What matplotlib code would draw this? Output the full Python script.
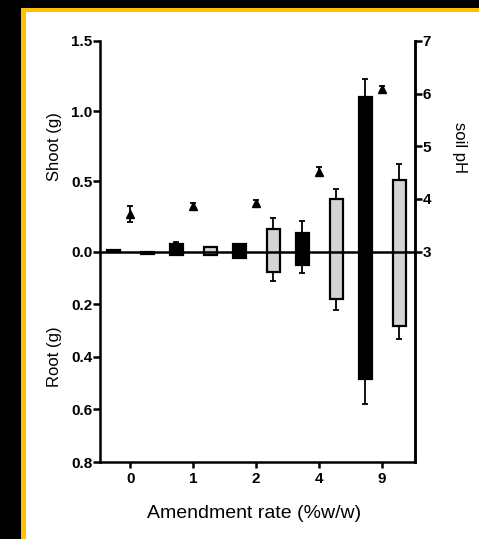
import matplotlib
matplotlib.use('Agg')
import matplotlib.pyplot as plt
from matplotlib.patches import Rectangle

plt.rcParams['font.family'] = ['Liberation Sans', 'DejaVu Sans']

# Datos
rates = ['0', '1', '2', '4', '9']
shoot_black = [0.01, 0.05, 0.05, 0.133, 1.10]
shoot_black_err = [0.0, 0.02, 0.0, 0.082, 0.127]
root_black = [0.0, 0.012, 0.025, 0.05, 0.484]
root_black_err = [0.0, 0.0, 0.0, 0.032, 0.096]
shoot_grey = [0.0, 0.035, 0.163, 0.375, 0.512]
shoot_grey_err = [0.0, 0.0, 0.077, 0.071, 0.113]
root_grey = [0.01, 0.015, 0.078, 0.181, 0.282]
root_grey_err = [0.0, 0.0, 0.036, 0.041, 0.051]
ph = [3.72, 3.86, 3.92, 4.52, 6.09]
ph_err = [0.15, 0.06, 0.06, 0.08, 0.06]

k = 1.5 / 0.8   # escala de la parte de raiz
W, H = 479, 539
fig = plt.figure(figsize=(W / 100, H / 100), dpi=100)
fig.patch.set_facecolor('black')
# marco amarillo y fondo blanco
fig.patches.append(Rectangle((21 / W, 0), 1, 1 - 8 / H, transform=fig.transFigure,
                             facecolor='#FFC000', edgecolor='none', zorder=-2))
fig.patches.append(Rectangle((26 / W, 0), 1, 1 - 12 / H, transform=fig.transFigure,
                             facecolor='white', edgecolor='none', zorder=-1))

ax = fig.add_axes([100 / W, 1 - 462 / H, 315 / W, 421 / H])
ax.patch.set_alpha(0)
x = list(range(len(rates)))
w = 0.2
off = 0.27
lw = 1.8

for xs, sh, sh_e, rt, rt_e, fc in [
        ([i - off for i in x], shoot_black, shoot_black_err, root_black, root_black_err, 'black'),
        ([i + off for i in x], shoot_grey, shoot_grey_err, root_grey, root_grey_err, '#d4d4d4')]:
    bottoms = [-r * k for r in rt]
    heights = [s + r * k for s, r in zip(sh, rt)]
    ax.bar(xs, heights, bottom=bottoms, width=w, color=fc, edgecolor='black',
           linewidth=1.6, zorder=3)
    ax.errorbar(xs, sh, yerr=[[0] * len(sh), sh_e], fmt='none', ecolor='black',
                elinewidth=1.3, capsize=2.5, capthick=1.3, zorder=2)
    ax.errorbar(xs, bottoms, yerr=[[e * k for e in rt_e], [0] * len(rt)], fmt='none',
                ecolor='black', elinewidth=1.3, capsize=2.5, capthick=1.3, zorder=2)

ax.axhline(0, color='black', lw=lw, zorder=4)
ax.set_xlim(-0.48, 4.52)
ax.set_ylim(-1.5, 1.5)
ax.set_xticks(x)
ax.set_xticklabels(rates)
yt = [1.5, 1.0, 0.5, 0.0, -0.2 * k, -0.4 * k, -0.6 * k, -0.8 * k]
ax.set_yticks(yt)
ax.set_yticklabels(['1.5', '1.0', '0.5', '0.0', '0.2', '0.4', '0.6', '0.8'])
for sp in ['left', 'bottom', 'right']:
    ax.spines[sp].set_linewidth(lw)
ax.spines['top'].set_visible(False)
ax.tick_params(axis='y', width=lw, length=5, labelsize=11, pad=0.5)
ax.tick_params(axis='x', width=lw, length=4, labelsize=11, pad=3)
for lab in ax.get_xticklabels() + ax.get_yticklabels():
    lab.set_fontweight('bold')

ax2 = ax.twinx()
ax2.errorbar(x, ph, yerr=ph_err, fmt='^', color='black', markersize=6,
             elinewidth=1.3, capsize=2.5, capthick=1.3)
ax2.set_ylim(-1, 7)
ax2.set_yticks([3, 4, 5, 6, 7])
ax2.spines['top'].set_visible(False)
ax2.spines['right'].set_linewidth(lw)
ax2.spines['left'].set_visible(False)
ax2.spines['bottom'].set_visible(False)
ax2.tick_params(width=lw, length=5, labelsize=11, pad=0.5)
for lab in ax2.get_yticklabels():
    lab.set_fontweight('bold')

fig.text(55 / W, 1 - 147 / H, 'Shoot (g)', rotation=90, ha='center', va='center', fontsize=12)
fig.text(55 / W, 1 - 357 / H, 'Root (g)', rotation=90, ha='center', va='center', fontsize=12)
fig.text(459 / W, 1 - 147 / H, 'soil pH', rotation=270, ha='center', va='center', fontsize=12)
fig.text(254 / W, 1 - 514 / H, 'Amendment rate (%w/w)', ha='center', va='center', fontsize=14)

plt.savefig('out.png', dpi=100, facecolor=fig.get_facecolor())
